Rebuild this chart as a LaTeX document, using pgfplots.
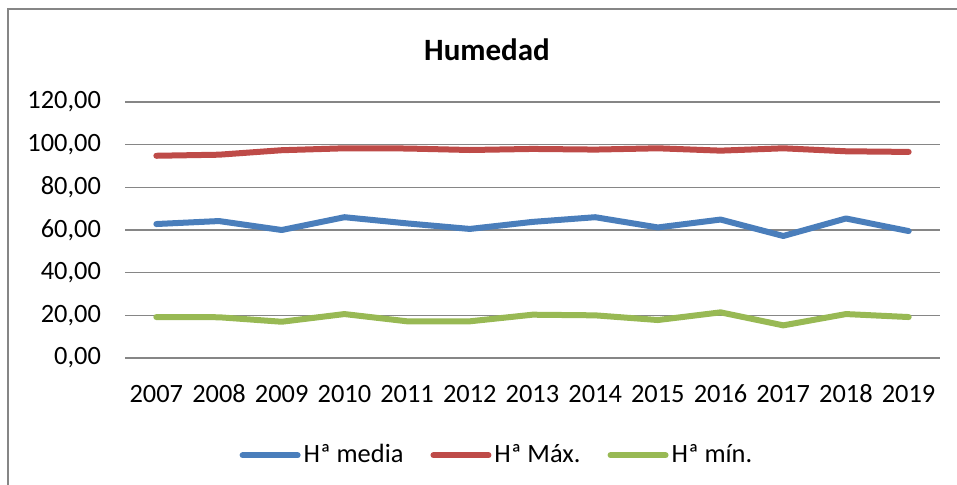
\documentclass[border=0pt]{standalone}
\usepackage{pgfplots}
\pgfplotsset{compat=1.18}
\usepackage{fontspec}
\setmainfont{Carlito}
\definecolor{cblue}{HTML}{4A7EBB}
\definecolor{cred}{HTML}{BE4B48}
\definecolor{cgreen}{HTML}{98B954}
\definecolor{cgrid}{HTML}{868686}
\begin{document}
\begin{tikzpicture}
\path[use as bounding box] (0pt,0pt) rectangle (478.5pt,242pt);
\draw[cgrid,line width=0.9pt] (4pt,237.5pt) rectangle (490pt,-10pt);
\node[font=\bfseries\fontsize{15.5}{18}\selectfont] at (243.5pt,217pt) {Humedad};
\begin{axis}[
  at={(62.5pt,63pt)}, anchor=south west,
  scale only axis, width=407.5pt, height=128pt,
  xmin=2006.5, xmax=2019.5, ymin=0, ymax=120,
  xtick={2007,...,2019}, ytick={0,20,...,120},
  xticklabels={2007,2008,2009,2010,2011,2012,2013,2014,2015,2016,2017,2018,2019},
  axis line style={draw=none},
  major tick length=0pt,
  ymajorgrids, grid style={cgrid,line width=0.75pt},
  /pgf/number format/assume math mode=true,
  yticklabel={\pgfmathprintnumber[fixed,fixed zerofill,precision=2,use comma]{\tick}},
  tick label style={font=\fontsize{13.2}{15}\selectfont},
  yticklabel style={xshift=-8.5pt},
  xticklabel style={yshift=-9.5pt, text height=9pt, text depth=0pt},
  legend style={at={(0.457,-0.38)}, anchor=center, draw=none, font=\fontsize{13.2}{15}\selectfont,
    /tikz/every odd column/.append style={column sep=0pt},
    /tikz/every even column/.append style={column sep=12pt},
    nodes={inner xsep=1.5pt}},
  legend columns=3,
  legend image code/.code={\draw[#1] (0pt,0pt) -- (27.5pt,0pt);},
]
\addplot[cblue, line width=3pt, line join=round, line cap=round] coordinates {
(2007,62.8)(2008,64.2)(2009,60.0)(2010,66.0)(2011,63.1)(2012,60.5)(2013,63.8)(2014,66.0)(2015,61.2)(2016,64.9)(2017,57.2)(2018,65.4)(2019,59.5)};
\addlegendentry{Hª media}
\addplot[cred, line width=3pt, line join=round, line cap=round] coordinates {
(2007,94.8)(2008,95.3)(2009,97.4)(2010,98.3)(2011,98.2)(2012,97.5)(2013,98.0)(2014,97.7)(2015,98.3)(2016,97.2)(2017,98.3)(2018,96.9)(2019,96.6)};
\addlegendentry{Hª Máx.}
\addplot[cgreen, line width=3pt, line join=round, line cap=round] coordinates {
(2007,19.2)(2008,19.1)(2009,17.0)(2010,20.6)(2011,17.2)(2012,17.2)(2013,20.3)(2014,20.0)(2015,17.8)(2016,21.4)(2017,15.3)(2018,20.6)(2019,19.2)};
\addlegendentry{Hª mín.}
\end{axis}
\end{tikzpicture}
\end{document}
